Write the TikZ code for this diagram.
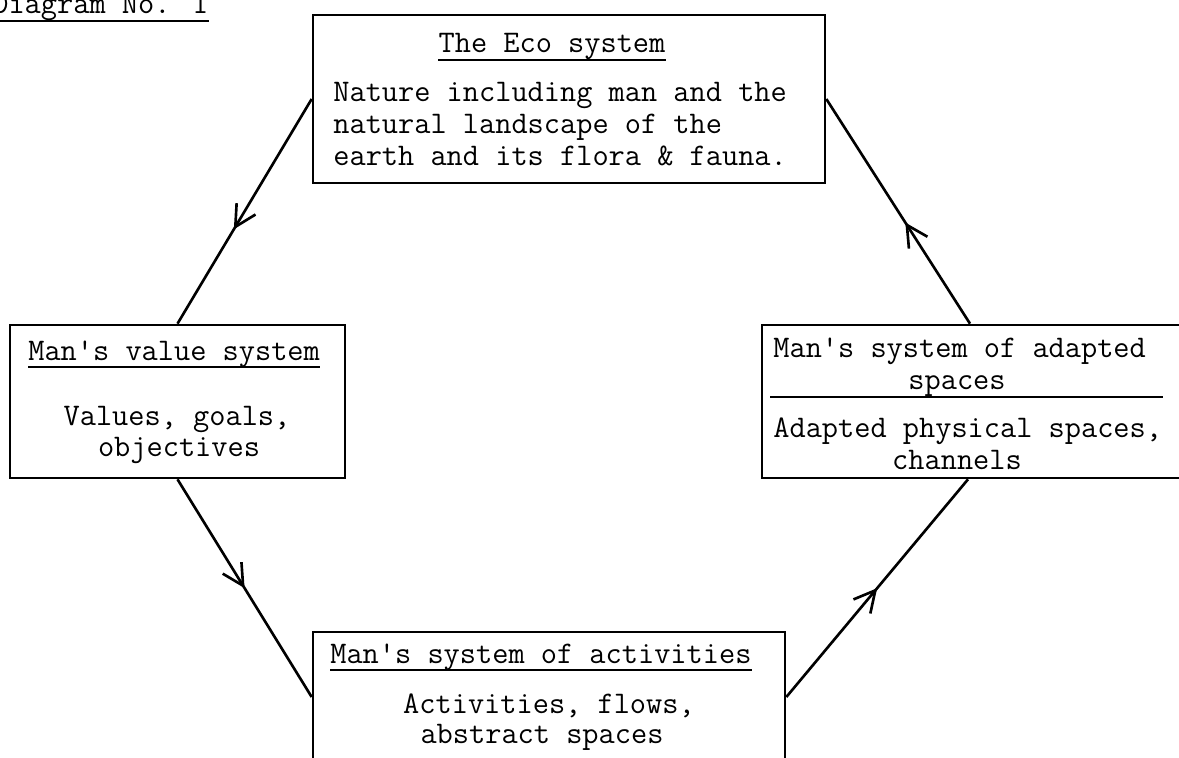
\documentclass[tikz,border=0pt]{standalone}
\usepackage{fontspec}
\usetikzlibrary{arrows.meta, decorations.markings, fit}

\begin{document}
\begin{tikzpicture}[
      x=0.02cm,
      y=-0.02cm,
      font=\ttfamily\fontsize{17.9}{20}\selectfont\addfontfeatures{FakeBold=1.2},
      box/.style={
        draw,
        line width=1.5pt,
        inner sep=0pt
      },
      txt/.style={inner sep=0pt},
      rule/.style={line width=1.1pt},
      flow/.style={line width=1.5pt},
      mid arrow/.style={
        postaction={decorate},
        decoration={markings,
          mark=at position #1 with {\arrow{Straight Barb[length=0.42cm, width=0.44cm]}}}
      }
  ]

    \useasboundingbox (0,0) rectangle (1179,757);

    % Label oben links
    \node[txt, anchor=base west] (diagno) at (-8,14) {Diagram No. 1};
    \draw[rule] ([yshift=-0.14cm]diagno.base west) -- ([yshift=-0.14cm]diagno.base east);

    % Kasten
    \node[box, fit={(313,15) (825,183)}] (eco) {};
    \node[box, fit={(10,325) (345,478)}] (value) {};
    \node[box, fit={(313,632) (785,762)}] (act) {};
    \node[box, fit={(762,325) (1186,478)}] (adapt) {};

    % The Eco system
    \node[txt, anchor=base] (ecotitle) at (552,53) {The Eco system};
    \draw[rule] ([yshift=-0.14cm]ecotitle.base west) -- ([yshift=-0.14cm]ecotitle.base east);
    \foreach \txt [count=\i from 0] in {Nature including man and the, natural landscape of the, earth and its flora \& fauna.} {
      \node[txt, anchor=base west] (eco\i) at (333,102+31.5*\i) {\txt};
    }

    % Man's value system
    \node[txt, anchor=base west] (valuetitle) at (28,360) {Man\textquotesingle s value system};
    \draw[rule] ([yshift=-0.14cm]valuetitle.base west) -- ([yshift=-0.14cm]valuetitle.base east);
    \node[txt, anchor=base] (value1) at (177,425) {Values, goals,};
    \node[txt, anchor=base] (value2) at (179,456) {objectives};

    % Man's system of activities
    \node[txt, anchor=base west] (acttitle) at (330,663) {Man\textquotesingle s system of activities};
    \draw[rule] ([yshift=-0.14cm]acttitle.base west) -- ([yshift=-0.14cm]acttitle.base east);
    \node[txt, anchor=base] (act1) at (549,713) {Activities, flows,};
    \node[txt, anchor=base] (act2) at (542,743) {abstract spaces};

    % Man's system of adapted spaces
    \node[txt, anchor=base west] (adapttitle) at (773,357) {Man\textquotesingle s system of adapted};
    \node[txt, anchor=base] (adapttitle2) at (957,389) {spaces};
    \draw[rule] (770,397) -- (1163,397);
    \node[txt, anchor=base west] (adapt1) at (773,437) {Adapted physical spaces,};
    \node[txt, anchor=base] (adapt2) at (957,469) {channels};

    % Kreislauf
    \draw[flow, mid arrow=0.58] (eco.west) -- (value.north);
    \draw[flow, mid arrow=0.5] (value.south) -- (act.west);
    \draw[flow, mid arrow=0.5] (act.east) -- ([xshift=-0.12cm]adapt.south);
    \draw[flow, mid arrow=0.45] ([xshift=-0.08cm]adapt.north) -- (eco.east);

  \end{tikzpicture}
\end{document}
